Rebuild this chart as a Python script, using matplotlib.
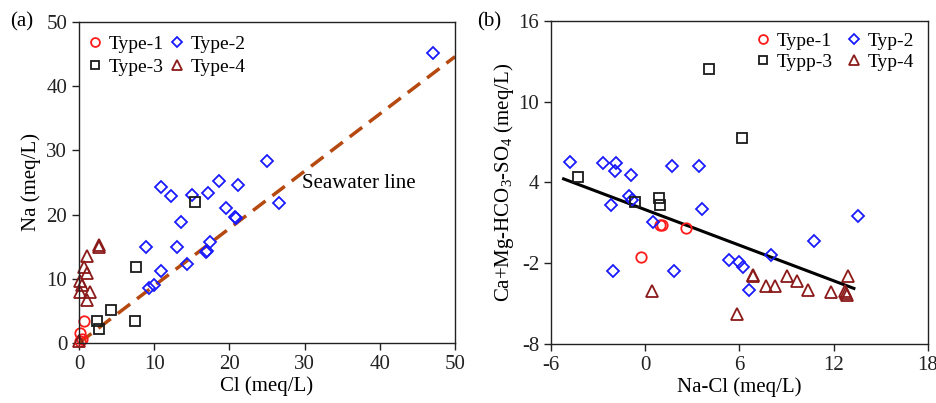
import matplotlib
matplotlib.use("Agg")
import matplotlib.pyplot as plt
import numpy as np

plt.rcParams['font.family'] = ['Liberation Serif', 'DejaVu Serif']
plt.rcParams['mathtext.fontset'] = 'custom'
plt.rcParams['mathtext.rm'] = 'Liberation Serif'
plt.rcParams['mathtext.it'] = 'Liberation Serif:italic'
plt.rcParams['axes.unicode_minus'] = False

# ---------------- Panel (a): Na vs Cl ----------------
a_t1_cl = [0.6, 0.1, 0.35, 0.1]
a_t1_na = [3.4, 1.6, 0.6, 0.3]

a_t2_cl = [47.1, 25.0, 18.6, 21.2, 10.9, 12.2, 15.0, 17.1, 19.5, 26.6, 20.8, 20.9,
           13.6, 8.9, 13.0, 17.4, 17.0, 16.85, 10.9, 14.4, 9.3, 10.0]
a_t2_na = [45.1, 28.4, 25.2, 24.6, 24.3, 22.9, 23.0, 23.4, 21.1, 21.8, 19.7, 19.5,
           18.8, 14.9, 14.9, 15.7, 14.4, 14.2, 11.2, 12.3, 8.5, 9.0]

a_t3_cl = [15.4, 7.6, 4.3, 7.4, 2.35, 2.6]
a_t3_na = [22.0, 11.8, 5.2, 3.4, 3.4, 2.2]

a_t4_cl = [2.7, 2.7, 1.1, 0.66, 1.0, 0.1, 0.4, 1.5, 0.1, 1.1, 0.0]
a_t4_na = [15.3, 15.0, 13.6, 11.9, 10.9, 9.6, 9.1, 8.0, 7.9, 6.7, 0.3]

seawater_x = [0, 50]
seawater_y = [0, 44.6]

a_xticks = [0, 10, 20, 30, 40, 50]
a_yticks = [0, 10, 20, 30, 40, 50]

# ---------------- Panel (b): Ca+Mg-HCO3-SO4 vs Na-Cl ----------------
b_t1_x = [0.93, 1.1, 2.63, -0.24]
b_t1_y = [0.86, 0.86, 0.61, -1.57]

b_t2_x = [-4.81, -2.68, -1.83, -1.9, -0.92, 1.74, 3.40, -2.19, -1.03, -0.81, 3.59,
          0.5, 13.58, 10.75, 8.01, 5.35, 5.99, 6.24, 6.63, -2.05, 1.84]
b_t2_y = [5.51, 5.44, 5.44, 4.89, 4.57, 5.24, 5.24, 2.34, 2.96, 2.67, 2.02,
          1.03, 1.48, -0.33, -1.37, -1.74, -1.91, -2.28, -4.01, -2.6, -2.6]

b_t3_x = [4.08, 6.2, -4.28, -0.62, 0.87, 0.93]
b_t3_y = [12.41, 7.34, 4.40, 2.54, 2.84, 2.34]

b_t4_x = [0.44, 5.88, 6.84, 6.88, 7.69, 8.26, 9.01, 9.65, 10.39, 11.81, 12.72, 12.77,
          12.83, 12.94]
b_t4_y = [-4.09, -5.77, -2.93, -2.85, -3.67, -3.72, -2.93, -3.30, -3.97, -4.14, -4.04,
          -4.21, -4.34, -2.98]

fit_x = [-5.2, 13.3]
fit_y = [4.27, -3.87]

b_xticks = [-6, 0, 6, 12, 18]
b_yticks = [-8, -2, 4, 10, 16]

RED = '#FF1A1A'
BLUE = '#1A1AFF'
BLACK = '#1A1A1A'
MAROON = '#8B1A1A'
SEA = '#B5490F'

fig = plt.figure(figsize=(9.36, 4.03), dpi=100)
axa = fig.add_axes([0.0844, 0.1489, 0.4017, 0.7965])
axb = fig.add_axes([0.5887, 0.1464, 0.4024, 0.8015])

mk = dict(linestyle='none', markerfacecolor='none', markeredgewidth=1.3, clip_on=False)

def style(ax):
    for s in ax.spines.values():
        s.set_linewidth(1.0)
        s.set_color('#222222')
    ax.tick_params(direction='out', length=5, width=1.0, labelsize=15,
                   top=False, right=False, colors='#222222')

# Panel (a)
axa.plot(seawater_x, seawater_y, linestyle=(0, (4.5, 2.5)), color=SEA, lw=2.5, zorder=1)
h1, = axa.plot(a_t1_cl, a_t1_na, marker='o', ms=7.5, markeredgecolor=RED, label='Type-1', **mk)
h2, = axa.plot(a_t2_cl, a_t2_na, marker='D', ms=6, markeredgecolor=BLUE, label='Type-2', **mk)
h3, = axa.plot(a_t3_cl, a_t3_na, marker='s', ms=7.5, markeredgecolor=BLACK, label='Type-3', **mk)
h4, = axa.plot(a_t4_cl, a_t4_na, marker='^', ms=8, markeredgecolor=MAROON, label='Type-4', **mk)
axa.set_xlim(0, 50)
axa.set_ylim(0, 50)
axa.set_xticks(a_xticks)
axa.set_yticks(a_yticks)
axa.set_xlabel('Cl (meq/L)', fontsize=15, labelpad=2)
axa.set_ylabel('Na (meq/L)', fontsize=15, labelpad=4)
axa.text(29.6, 24.9, 'Seawater line', fontsize=15, ha='left', va='center')
style(axa)
axa.legend(handles=[h1, h3, h2, h4], ncol=2, loc='upper left', fontsize=14,
           frameon=False, handlelength=0.8, handletextpad=0.3, columnspacing=0.3,
           labelspacing=0.28, borderaxespad=0.2, markerscale=0.85,
           bbox_to_anchor=(-0.01, 0.995))
fig.text(10 / 936, 1 - 22 / 403, '(a)', fontsize=15, ha='left', va='center')

# Panel (b)
axb.plot(fit_x, fit_y, color='black', lw=2.2, zorder=1)
g1, = axb.plot(b_t1_x, b_t1_y, marker='o', ms=7.5, markeredgecolor=RED, label='Type-1', **mk)
g2, = axb.plot(b_t2_x, b_t2_y, marker='D', ms=6, markeredgecolor=BLUE, label='Typ-2', **mk)
g3, = axb.plot(b_t3_x, b_t3_y, marker='s', ms=7.5, markeredgecolor=BLACK, label='Typp-3', **mk)
g4, = axb.plot(b_t4_x, b_t4_y, marker='^', ms=8, markeredgecolor=MAROON, label='Typ-4', **mk)
axb.set_xlim(-6, 18)
axb.set_ylim(-8, 16)
axb.set_xticks(b_xticks)
axb.set_yticks(b_yticks)
axb.set_xlabel('Na-Cl (meq/L)', fontsize=15, labelpad=2)
axb.set_ylabel('Ca+Mg-HCO$_3$-SO$_4$ (meq/L)', fontsize=15, labelpad=2)
style(axb)
axb.legend(handles=[g1, g3, g2, g4], ncol=2, loc='upper right', fontsize=14,
           frameon=False, handlelength=0.8, handletextpad=0.3, columnspacing=0.7,
           labelspacing=0.15, borderaxespad=0.2, markerscale=0.85,
           bbox_to_anchor=(0.995, 1.0))
fig.text(477 / 936, 1 - 22 / 403, '(b)', fontsize=15, ha='left', va='center')

fig.savefig('out.png', dpi=100)
